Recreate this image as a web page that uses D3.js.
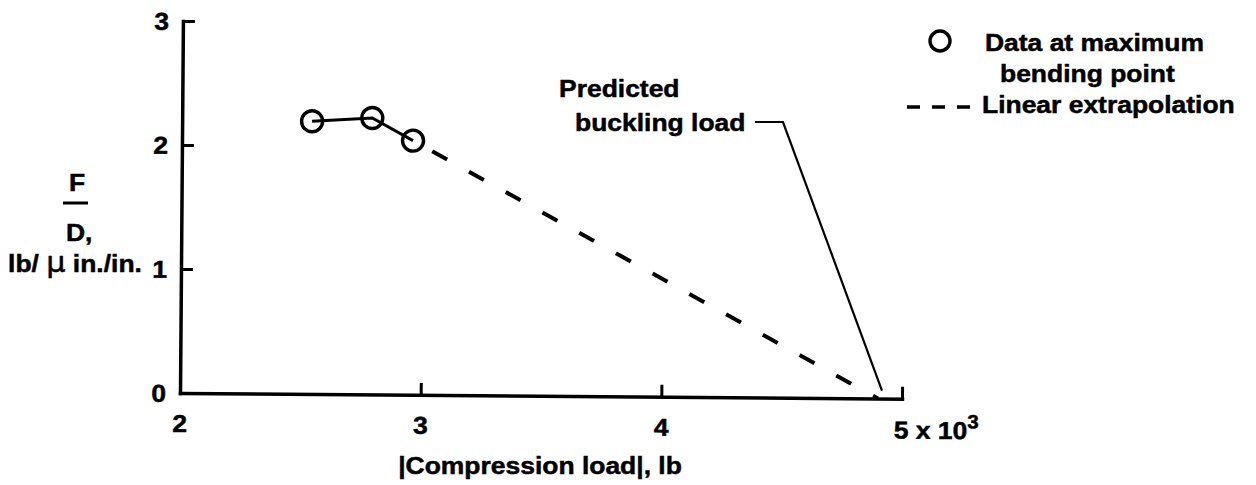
<!DOCTYPE html>
<html><head><meta charset="utf-8">
<script src="https://cdn.jsdelivr.net/npm/d3@7"></script>
<style>
html,body{margin:0;padding:0;background:#fff;}
svg{display:block;}
text{font-family:"Liberation Sans",Arial,Helvetica,sans-serif;font-weight:bold;fill:#000;stroke:#000;stroke-width:0.5px;}
</style></head><body>
<svg id="chart" width="1256" height="485"></svg>
<script>
// ---- data (x in units of 10^3 lb) ----
const compressionLoad = [2.54, 2.79, 2.96];
const forceRatio = [2.20, 2.23, 2.05];
const extrapolationX = [2.96, 4.9];
const extrapolationY = [2.05, 0];
const predictedBucklingLoad = 4.9;
const xTickValues = [2, 3, 4, 5];
const xTickLabels = ["2", "3", "4", "5 x 10"];
const yTickValues = [0, 1, 2, 3];
const yTickLabels = ["0", "1", "2", "3"];
const xTitle = "|Compression load|, lb";
const legendDataLines = ["Data at maximum", "bending point"];
const legendLineLabel = "Linear extrapolation";
const annotationLines = ["Predicted", "buckling load"];

const FS = 24.5, SX = 1.08;
const svg = d3.select("#chart");
const x = d3.scaleLinear().domain([2, 5]).range([180, 902]);
const y = d3.scaleLinear().domain([0, 3]).range([393, 21]);
const ANG = 0.45;
const ox = x(2), oy = y(0);
function rot(px, py) {
  const a = ANG * Math.PI / 180, dx = px - ox, dy = py - oy;
  return [ox + dx * Math.cos(a) - dy * Math.sin(a), oy + dx * Math.sin(a) + dy * Math.cos(a)];
}
function label(g, px, py, str, anchor, size) {
  return g.append("text")
    .attr("transform", `translate(${px},${py}) scale(${SX},1)`)
    .attr("text-anchor", anchor || "start")
    .style("font-size", (size || FS) + "px")
    .text(str);
}

const plot = svg.append("g").attr("transform", `rotate(${ANG},${ox},${oy})`);

// axes
const yAxis = d3.axisLeft(y).tickValues(yTickValues.filter(v => v > 0))
  .tickSizeInner(-12).tickSizeOuter(0).tickFormat("");
const xAxis = d3.axisBottom(x).tickValues(xTickValues.filter(v => v > 2))
  .tickSizeInner(-12).tickSizeOuter(0).tickFormat("");
const gy = plot.append("g").attr("transform", `translate(${x(2)},0)`).call(yAxis);
const gx = plot.append("g").attr("transform", `translate(0,${y(0)})`).call(xAxis);
[gx, gy].forEach(g => {
  g.select(".domain").attr("stroke", "#000").attr("stroke-width", 3.5).attr("stroke-linecap", "square");
  g.selectAll(".tick line").attr("stroke", "#000").attr("stroke-width", 3);
});

// tick labels
yTickValues.forEach((v, i) => label(plot, x(2) - 14, y(v) + 9, yTickLabels[i], "end"));
xTickValues.forEach((v, i) => {
  if (i === xTickValues.length - 1) {
    const t = label(plot, x(v) - 8, y(0) + 40, xTickLabels[i], "start");
    t.append("tspan").attr("dy", -11).style("font-size", "19px").text("3");
  } else {
    label(plot, x(v), y(0) + 39, xTickLabels[i], "middle");
  }
});

// data
const pts = compressionLoad.map((c, i) => [c, forceRatio[i]]);
plot.append("path").datum(pts)
  .attr("d", d3.line().x(d => x(d[0])).y(d => y(d[1])))
  .attr("fill", "none").attr("stroke", "#000").attr("stroke-width", 3);
plot.selectAll("circle.pt").data(pts).enter().append("circle")
  .attr("class", "pt").attr("cx", d => x(d[0])).attr("cy", d => y(d[1])).attr("r", 10.5)
  .attr("fill", "none").attr("stroke", "#000").attr("stroke-width", 3.4);

// extrapolation
const ext = extrapolationX.map((c, i) => [c, extrapolationY[i]]);
plot.append("path").datum(ext)
  .attr("d", d3.line().x(d => x(d[0])).y(d => y(d[1])))
  .attr("fill", "none").attr("stroke", "#000").attr("stroke-width", 4)
  .attr("stroke-dasharray", "17,25").attr("stroke-dashoffset", 20);

// axis titles
label(svg, 540, 474, xTitle, "middle");
label(svg, 77, 191, "F", "middle");
svg.append("line").attr("x1", 63).attr("x2", 88).attr("y1", 203).attr("y2", 203)
  .attr("stroke", "#000").attr("stroke-width", 3);
label(svg, 66, 241, "D,", "start");
const yl = label(svg, 75, 272, "lb/ ", "middle");
yl.append("tspan").style("font-weight", "normal").style("font-size", "28px").style("font-family", "'DejaVu Sans',sans-serif").text("\u03BC");
yl.append("tspan").text(" in./in.");

// annotation
label(svg, 559, 97, annotationLines[0], "start");
label(svg, 575, 131, annotationLines[1], "start");
const endPt = rot(x(predictedBucklingLoad) + 4, y(0) - 8);
svg.append("path").attr("d", `M755,122H783L${endPt[0]},${endPt[1]}`)
  .attr("fill", "none").attr("stroke", "#000").attr("stroke-width", 2.2);

// legend
svg.append("circle").attr("cx", 940).attr("cy", 41).attr("r", 10)
  .attr("fill", "none").attr("stroke", "#000").attr("stroke-width", 3.4);
label(svg, 985, 51, legendDataLines[0], "start");
label(svg, 1000, 82, legendDataLines[1], "start");
svg.append("line").attr("x1", 907).attr("x2", 970).attr("y1", 107).attr("y2", 107)
  .attr("stroke", "#000").attr("stroke-width", 3.5).attr("stroke-dasharray", "13,12");
label(svg, 982, 113, legendLineLabel, "start");
</script>
</body></html>
